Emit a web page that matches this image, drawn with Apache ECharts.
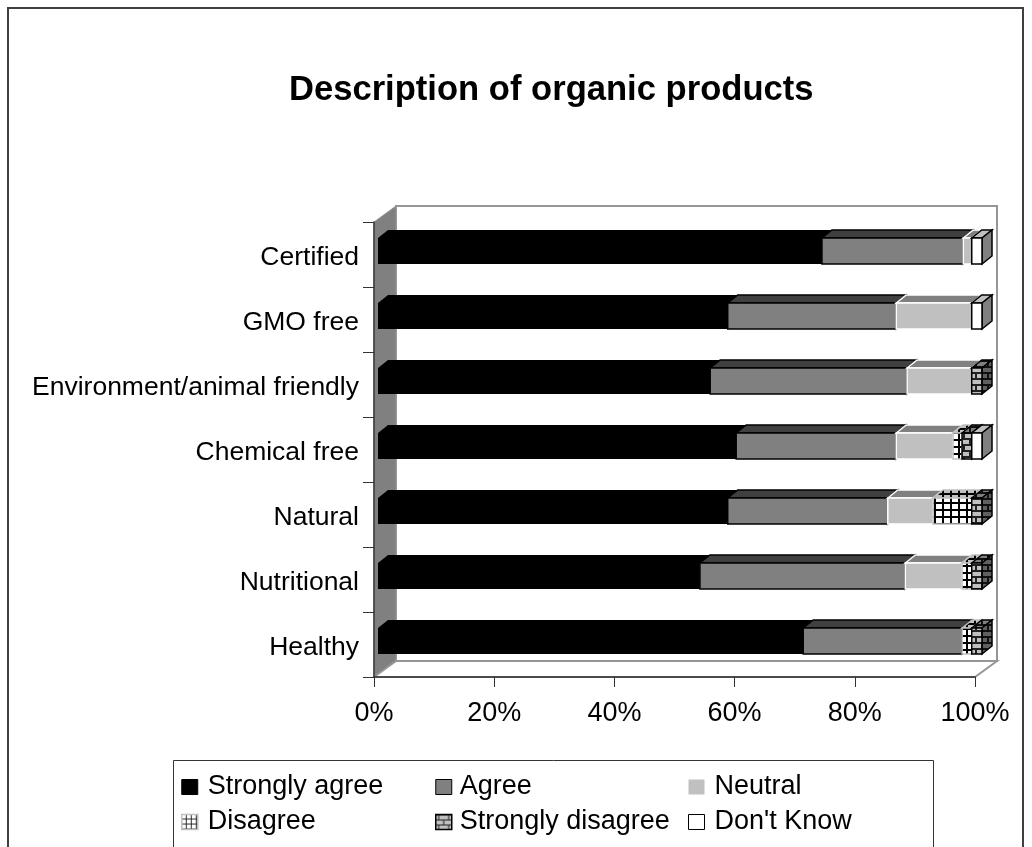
<!DOCTYPE html>
<html><head><meta charset="utf-8">
<style>html,body{margin:0;padding:0;background:#fff}#c{width:1032px;height:847px}</style>
<script src="https://cdn.jsdelivr.net/npm/echarts@6/dist/echarts.min.js"></script>
</head><body><div id="c"></div>
<script>
const categories = ['Healthy','Nutritional','Natural','Chemical free','Environment/animal friendly','GMO free','Certified'];
const stronglyAgree    = [70.4,53.3,57.9,59.3,55.0,57.9,73.5];
const agree            = [26.3,34.0,26.5,26.5,32.6,27.9,23.4];
const neutral          = [0,9.4,7.5,9.4,10.7,12.5,1.4];
const disagree         = [1.6,1.6,6.4,1.5,0,0,0];
const stronglyDisagree = [1.7,1.7,1.7,1.6,1.7,0,0];
const dontKnow         = [0,0,0,1.7,0,1.7,1.7];

function grid(bg, line, bw, bh, lw){
  const c=document.createElement('canvas');c.width=bw;c.height=bh;
  const g=c.getContext('2d');g.fillStyle=bg;g.fillRect(0,0,bw,bh);
  g.fillStyle=line;g.fillRect(bw-lw,0,lw,bh);g.fillRect(0,bh-lw,bw,lw);return {image:c,repeat:'repeat'};
}
function brick(bg, line, s, lw){
  const c=document.createElement('canvas');c.width=2*s;c.height=2*s;
  const g=c.getContext('2d');g.fillStyle=bg;g.fillRect(0,0,2*s,2*s);
  g.fillStyle=line;g.fillRect(0,0,2*s,lw);g.fillRect(0,s,2*s,lw);g.fillRect(s/2,0,lw,s);g.fillRect(s*1.5,s,lw,s);
  return {image:c,repeat:'repeat'};
}
const palette = [
 {name:'Strongly agree',vals:stronglyAgree,front:'#000',top:'#000',side:'#000',border:'#000'},
 {name:'Agree',vals:agree,front:'#808080',top:'#404040',side:'#404040',border:'#000'},
 {name:'Neutral',vals:neutral,front:'#c0c0c0',top:'#808080',side:'#808080',border:'#fff'},
 {name:'Disagree',vals:disagree,front:grid('#fff','#000',8,7,2),top:grid('#c0c0c0','#000',8,5,2),side:grid('#808080','#000',5,7,2),border:'#c0c0c0'},
 {name:'Strongly disagree',vals:stronglyDisagree,front:brick('#c0c0c0','#222',6,2),top:brick('#808080','#111',6,2),side:brick('#606060','#111',6,2),border:'#000'},
 {name:"Don't Know",vals:dontKnow,front:'#fff',top:'#c0c0c0',side:'#808080',border:'#000'}
];
const legendIcons = {
 'Strongly agree':{color:'#000',borderColor:'#000',borderWidth:1},
 'Agree':{color:'#808080',borderColor:'#000',borderWidth:1},
 'Neutral':{color:'#c0c0c0',borderColor:'#c0c0c0',borderWidth:0},
 'Disagree':{color:grid('#fff','#222',5,5,1),borderColor:'#c0c0c0',borderWidth:1.5},
 'Strongly disagree':{color:brick('#c0c0c0','#222',5,1),borderColor:'#000',borderWidth:1.5},
 "Don't Know":{color:'#fff',borderColor:'#000',borderWidth:1}
};
const DX=10, DY=-8, OFF=4, STRETCH=1.005, FRAC=0.4, SHIFT=-3.5;
const X0=374, Y0=222, W=601, H=455, BACKX=22, BACKY=-16;

function makeSeries(p, si){
  const data=[];
  categories.forEach((_,i)=>{
    let start=0;for(let k=0;k<si;k++)start+=palette[k].vals[i];
    if(p.vals[i]>0)data.push([i,start,start+p.vals[i]]);
  });
  return {
    type:'custom',name:p.name,coordinateSystem:'cartesian2d',clip:false,z:3+si,silent:true,
    encode:{x:[1,2],y:0},itemStyle:{color:p.front},
    data,
    renderItem(params,api){
      const a=api.coord([api.value(1),api.value(0)]),b=api.coord([api.value(2),api.value(0)]);
      const h=api.size([0,1])[1]*FRAC;
      const px=v=>X0+OFF+(v-X0)*STRETCH;
      const x1=px(a[0]),x2=px(b[0]),cy=a[1]+SHIFT,t=cy-h/2,bt=cy+h/2;
      const lw=si===0?0:1.5;
      return {type:'group',children:[
        {type:'polygon',shape:{points:[[x1,t],[x1+DX,t+DY],[x2+DX,t+DY],[x2,t]]},style:{fill:p.top,stroke:p.border,lineWidth:lw}},
        {type:'polygon',shape:{points:[[x2,t],[x2+DX,t+DY],[x2+DX,bt+DY],[x2,bt]]},style:{fill:p.side,stroke:p.border,lineWidth:lw}},
        {type:'rect',shape:{x:x1,y:t,width:x2-x1,height:h},style:{fill:p.front,stroke:p.border,lineWidth:lw}}
      ]};
    }
  };
}
const font='"Liberation Sans",Arial,sans-serif';
const legend=(names,left,gap)=>({
  show:true,left,top:772,orient:'vertical',itemWidth:16,itemHeight:15,itemGap:5,padding:0,selectedMode:false,
  icon:'rect',data:names.map(n=>({name:n,itemStyle:legendIcons[n]})),
  textStyle:{fontFamily:font,fontSize:27,color:'#000',lineHeight:30,padding:[0,0,0,gap]}
});
const chart=echarts.init(document.getElementById('c'),null,{renderer:'canvas'});
chart.setOption({
  animation:false,backgroundColor:'#fff',
  title:{text:'Description of organic products',left:289,top:73,padding:0,
    textStyle:{fontFamily:font,fontSize:34.6,fontWeight:'bold',color:'#000'}},
  grid:{left:X0,top:Y0,width:W,height:H,containLabel:false},
  xAxis:{type:'value',min:0,max:100,interval:20,
    axisLine:{show:true,lineStyle:{color:'#333',width:1.5}},
    axisTick:{show:true,length:10,lineStyle:{color:'#333'}},
    splitLine:{show:false},
    axisLabel:{formatter:'{value}%',fontFamily:font,fontSize:27,color:'#000',margin:23}},
  yAxis:{type:'category',data:categories,
    axisLine:{show:true,lineStyle:{color:'#333',width:1.5}},
    axisTick:{show:true,length:11,lineStyle:{color:'#333'}},
    axisLabel:{color:'#000',margin:15,formatter:v=>'{a|'+v+'}',
      rich:{a:{fontFamily:font,fontSize:26.5,color:'#000',padding:[7,0,0,0]}}}},
  legend:[legend(['Strongly agree','Disagree'],181,5),legend(['Agree','Strongly disagree'],435,3),legend(['Neutral',"Don't Know"],688,5)],
  graphic:[
    {type:'rect',z:-10,shape:{x:8,y:8,width:1015,height:900},style:{fill:'#fff',stroke:'#404040',lineWidth:2}},
    {type:'polygon',z:-9,shape:{points:[[X0+BACKX,Y0+BACKY],[X0+W+BACKX,Y0+BACKY],[X0+W+BACKX,Y0+H+BACKY],[X0+BACKX,Y0+H+BACKY]]},style:{fill:'#fff',stroke:'#969696',lineWidth:2}},
    {type:'polygon',z:-8,shape:{points:[[X0,Y0],[X0+BACKX,Y0+BACKY],[X0+BACKX,Y0+H+BACKY],[X0,Y0+H]]},style:{fill:'#808080',stroke:'#969696',lineWidth:1}},
    {type:'polygon',z:-8,shape:{points:[[X0,Y0+H],[X0+BACKX,Y0+H+BACKY],[X0+W+BACKX,Y0+H+BACKY],[X0+W,Y0+H]]},style:{fill:'#fff',stroke:'#969696',lineWidth:2}},
    {type:'rect',z:-7,shape:{x:173.5,y:760.5,width:760,height:100},style:{fill:'#fff',stroke:'#333',lineWidth:1}}
  ],
  series:palette.map(makeSeries)
});
</script></body></html>
